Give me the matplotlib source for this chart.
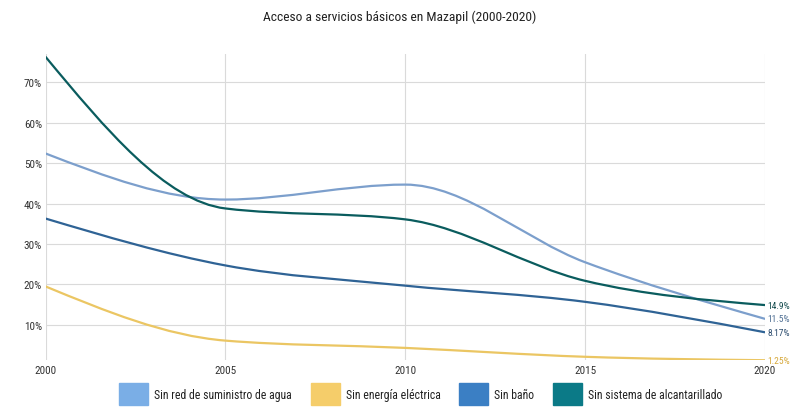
import numpy as np
import matplotlib
matplotlib.use('Agg')
import matplotlib.pyplot as plt
from matplotlib.path import Path
from matplotlib.patches import PathPatch, Patch

plt.rcParams['font.family'] = ['Roboto Condensed', 'Liberation Sans Narrow', 'Roboto', 'DejaVu Sans']

years = [2000, 2005, 2010, 2015, 2020]
sin_agua = [52.4, 41.0, 44.7, 25.5, 11.5]
sin_energia = [19.5, 6.1, 4.3, 2.1, 1.25]
sin_bano = [36.3, 24.7, 19.7, 15.7, 8.17]
sin_alcantarillado = [76.3, 38.8, 36.1, 20.9, 14.9]

labels = ['Sin red de suministro de agua', 'Sin energía eléctrica',
          'Sin baño', 'Sin sistema de alcantarillado']
end_labels = ['11.5%', '1.25%', '8.17%', '14.9%']
swatch_colors = ['#7aaee6', '#f5cd6a', '#3b7fc4', '#0b7a87']
line_colors = ['#7c9fcc', '#ebc663', '#2f6395', '#0a5c5e']
text_colors = ['#4f6f93', '#d6a83a', '#2c4c6e', '#124a4c']


def monotone_path(x, y):
    # smooth line like d3 curveMonotoneX, as cubic bezier segments
    x = np.asarray(x, float)
    y = np.asarray(y, float)
    n = len(x)
    t = np.zeros(n)
    for i in range(1, n - 1):
        h0 = x[i] - x[i - 1]
        h1 = x[i + 1] - x[i]
        s0 = (y[i] - y[i - 1]) / h0
        s1 = (y[i + 1] - y[i]) / h1
        p = (s0 * h1 + s1 * h0) / (h0 + h1)
        t[i] = (np.sign(s0) + np.sign(s1)) * min(abs(s0), abs(s1), 0.5 * abs(p))
    h = x[1] - x[0]
    t[0] = (3 * (y[1] - y[0]) / h - t[1]) / 2
    h = x[-1] - x[-2]
    t[-1] = (3 * (y[-1] - y[-2]) / h - t[-2]) / 2
    verts = [(x[0], y[0])]
    codes = [Path.MOVETO]
    for i in range(n - 1):
        dx = (x[i + 1] - x[i]) / 3
        verts += [(x[i] + dx, y[i] + dx * t[i]),
                  (x[i + 1] - dx, y[i + 1] - dx * t[i + 1]),
                  (x[i + 1], y[i + 1])]
        codes += [Path.CURVE4] * 3
    return Path(verts, codes)


fig = plt.figure(figsize=(8, 4.14), dpi=100)
ax = fig.add_axes([0.057, 0.127, 0.899, 0.74])

series = [sin_agua, sin_energia, sin_bano, sin_alcantarillado]
for vals, lc, tc, lab in zip(series, line_colors, text_colors, end_labels):
    ax.add_patch(PathPatch(monotone_path(years, vals), fill=False,
                           edgecolor=lc, lw=1.6, capstyle='round', zorder=3))
    ax.annotate(lab, (years[-1], vals[-1]), xytext=(2, 0),
                textcoords='offset points', va='center', ha='left',
                fontsize=6.8, color=tc, annotation_clip=False)

ax.set_xlim(2000, 2020)
ax.set_ylim(1.2, 77)
ax.set_xticks(years)
ax.set_yticks([10, 20, 30, 40, 50, 60, 70])
ax.set_yticklabels([f'{v}%' for v in [10, 20, 30, 40, 50, 60, 70]])
ax.grid(True, color='#dadada', lw=0.8)
ax.set_axisbelow(True)
for s in ax.spines.values():
    s.set_visible(False)
ax.tick_params(length=0, labelsize=8, colors='#333333')
ax.tick_params(axis='y', pad=2.5)
ax.tick_params(axis='x', pad=3.5)

fig.suptitle('Acceso a servicios básicos en Mazapil (2000-2020)',
             y=0.975, fontsize=9.7, color='#222222')

handles = [Patch(facecolor=c, edgecolor=c) for c in swatch_colors]
fig.legend(handles, labels, ncol=4, loc='center', bbox_to_anchor=(0.526, 0.046),
           frameon=False, fontsize=8.5, handlelength=2.45, handleheight=2.45,
           handletextpad=0.5, columnspacing=1.6, labelcolor='#222222',
           borderpad=0)

fig.savefig('out.png', dpi=100, facecolor='white')
